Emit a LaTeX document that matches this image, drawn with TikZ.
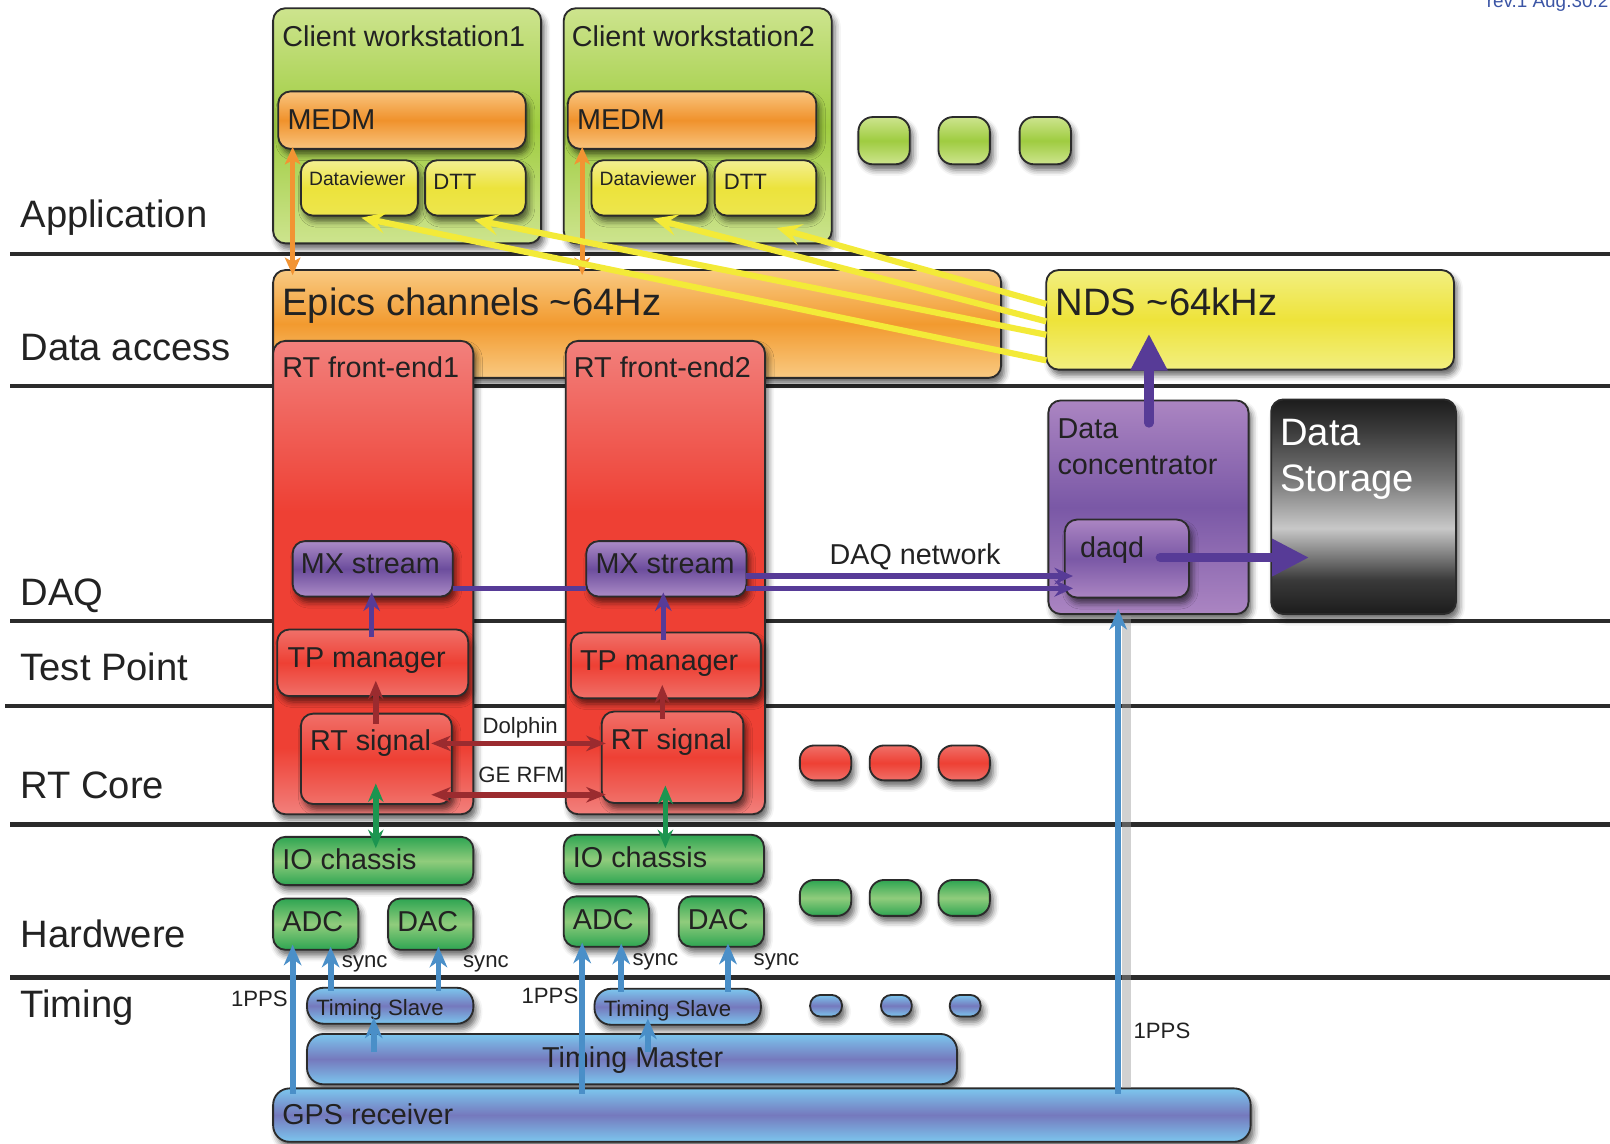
\documentclass[tikz,border=0pt]{standalone}
\usepackage{fontspec}
\setmainfont{Liberation Sans}
\usetikzlibrary{arrows.meta,calc,shadows.blur}

% palette
\definecolor{edge}{HTML}{2B2B2B}
\definecolor{ink}{HTML}{222222}
\definecolor{cwA}{HTML}{CDE48E}
\definecolor{cwB}{HTML}{9FCC40}
\definecolor{medmA}{HTML}{F9C47E}
\definecolor{medmB}{HTML}{F0922C}
\definecolor{yelA}{HTML}{F3EF92}
\definecolor{yelB}{HTML}{ECE33C}
\definecolor{ndsA}{HTML}{F2EF80}
\definecolor{ndsB}{HTML}{EEE33A}
\definecolor{epA}{HTML}{F9CA82}
\definecolor{epB}{HTML}{F29A2F}
\definecolor{feEdge}{HTML}{F2807C}
\definecolor{feMid}{HTML}{EE4034}
\definecolor{redA}{HTML}{F07069}
\definecolor{redB}{HTML}{EE4034}
\definecolor{purA}{HTML}{AB8BC6}
\definecolor{purB}{HTML}{6C4D9D}
\definecolor{dcA}{HTML}{AB85C2}
\definecolor{dcB}{HTML}{7A58A6}
\definecolor{hwA}{HTML}{2EA552}
\definecolor{hwB}{HTML}{90CC7C}
\definecolor{tmA}{HTML}{7CC6EE}
\definecolor{tmB}{HTML}{7579BD}
\definecolor{dsDark}{HTML}{1C1C1C}
\definecolor{dsDim}{HTML}{3A3A3A}
\definecolor{dsMid}{HTML}{767676}
\definecolor{dsLight}{HTML}{C8C8C8}
\definecolor{oranLine}{HTML}{F29433}
\definecolor{yelLine}{HTML}{F3EA38}
\definecolor{purLine}{HTML}{573B97}
\definecolor{redLine}{HTML}{9B2B2F}
\definecolor{grnLine}{HTML}{1C9550}
\definecolor{bluLine}{HTML}{4A8FC8}
\definecolor{revBlue}{HTML}{3B55A5}

% vertical shadings: TikZ maps a path onto the 25bp..75bp band
\pgfdeclareverticalshading{febig}{100bp}{color(0bp)=(feEdge); color(25bp)=(feEdge); color(32bp)=(feMid); color(57bp)=(feMid); color(75bp)=(feEdge); color(100bp)=(feEdge)}
\pgfdeclareverticalshading{storage}{100bp}{color(0bp)=(dsDark); color(25bp)=(dsDark); color(33bp)=(dsDim); color(45bp)=(dsLight); color(56.5bp)=(dsMid); color(68bp)=(dsDim); color(75bp)=(dsDark); color(100bp)=(dsDark)}

\newcommand\fBig{\fontsize{18.6pt}{22pt}\selectfont}
\newcommand\fMid{\fontsize{14pt}{17pt}\selectfont}
\newcommand\fSmall{\fontsize{10.8pt}{13pt}\selectfont}
\newcommand\fTiny{\fontsize{9.4pt}{11pt}\selectfont}
\newcommand\fRev{\fontsize{9.2pt}{11pt}\selectfont}

% box from its corners: style, name, x1, y1, x2, y2
\newcommand\mkbox[6]{%
  \pgfmathsetmacro\bxw{(#5-#3)*0.5}%
  \pgfmathsetmacro\bxh{(#6-#4)*0.5}%
  \node[#1, minimum width=\bxw pt, minimum height=\bxh pt] (#2) at ({(#3+#5)/2},{(#4+#6)/2}) {};}
% text on a baseline: name, x, baseline y, font, text
\newcommand\mktext[5]{\node[txt, font=#4] (#1) at (#2,#3) {#5};}

\tikzset{
  box/.style={draw=edge, line width=0.9pt, rounded corners=6pt, inner sep=0pt, outer sep=0pt,
    blur shadow={shadow xshift=1.6pt, shadow yshift=-2.8pt, shadow blur radius=2.8pt, shadow opacity=60}},
  gloss/.style 2 args={top color=#1, bottom color=#1, middle color=#2},
  cwbox/.style={box, gloss={cwA}{cwB}},
  medmbox/.style={box, gloss={medmA}{medmB}},
  yelbox/.style={box, top color=yelA, bottom color=yelB!80!yelA, middle color=yelB},
  ndsbox/.style={box, gloss={ndsA}{ndsB}},
  epbox/.style={box, gloss={epA}{epB}},
  febox/.style={box, shade, shading=febig},
  redbox/.style={box, gloss={redA}{redB}},
  purbox/.style={box, gloss={purA}{purB}},
  dcbox/.style={box, gloss={dcA}{dcB}},
  hwbox/.style={box, gloss={hwA}{hwB}},
  tmbox/.style={box, gloss={tmA}{tmB}},
  dsbox/.style={box, shade, shading=storage},
  txt/.style={anchor=base west, inner sep=0pt, outer sep=0pt, text=ink},
  layer/.style={draw=edge, line width=2pt},
  orng/.style={draw=oranLine, line width=2.6pt,
    {Stealth[length=8.5pt,width=7.5pt,inset=2pt]}-{Stealth[length=8.5pt,width=7.5pt,inset=2pt]}},
  ylw/.style={draw=yelLine, line width=3pt, -{Stealth[length=12pt,width=10.5pt,inset=5pt]}},
  blu/.style={draw=bluLine, line width=2.8pt, -{Stealth[length=10pt,width=8.5pt,inset=3pt]}},
  pur/.style={draw=purLine, line width=2.6pt, -{Stealth[length=9pt,width=8pt,inset=3pt]}},
  purplain/.style={draw=purLine, line width=2.6pt},
  purbig/.style={draw=purLine, line width=4.5pt, line cap=round, -{Triangle[length=18pt,width=17pt]}},
  rdl/.style={draw=redLine, line width=2.7pt, -{Stealth[length=9pt,width=7.5pt,inset=3pt]}},
  rdboth/.style={draw=redLine, line width=2.7pt,
    {Stealth[length=9.5pt,width=7.5pt,inset=3pt]}-{Stealth[length=9.5pt,width=7.5pt,inset=3pt]}},
  grboth/.style={draw=grnLine, line width=2.7pt,
    {Stealth[length=9pt,width=7.5pt,inset=3pt]}-{Stealth[length=9pt,width=7.5pt,inset=3pt]}},
}

\begin{document}
\begin{tikzpicture}[x=0.5pt,y=-0.5pt]
\useasboundingbox (0,0) rectangle (1568,1114);
\clip (0,0) rectangle (1568,1114);

% layer separators
\draw[layer] (10,247) -- (1568,247);
\draw[layer] (10,376) -- (1568,376);
\draw[layer] (10,605) -- (1568,605);
\draw[layer] (5,688) -- (1568,688);
\draw[layer] (10,803) -- (1568,803);
\draw[layer] (10,952) -- (1568,952);

% layer names
\mktext{lab-app}{20}{222}{\fBig}{Application}
\mktext{lab-da}{20}{351}{\fBig}{Data access}
\mktext{lab-daq}{20}{590}{\fBig}{DAQ}
\mktext{lab-tp}{20}{663}{\fBig}{Test Point}
\mktext{lab-rt}{20}{778}{\fBig}{RT Core}
\mktext{lab-hw}{20}{923}{\fBig}{Hardwere}
\mktext{lab-tim}{20}{991}{\fBig}{Timing}

\node[txt, font=\fRev, text=revBlue] (rev) at (1448,7) {rev.1 Aug.30.2};

% application layer
\mkbox{cwbox}{cw1}{266}{8}{527}{237}
\mkbox{cwbox}{cw2}{549}{8}{810}{237}
\mktext{cw1-t}{275}{45}{\fMid}{Client workstation1}
\mktext{cw2-t}{557}{45}{\fMid}{Client workstation2}
\mkbox{medmbox}{medm1}{271}{89}{512}{145}
\mkbox{medmbox}{medm2}{553}{89}{795}{145}
\mktext{medm1-t}{280}{126}{\fMid}{MEDM}
\mktext{medm2-t}{562}{126}{\fMid}{MEDM}
\mkbox{yelbox}{dv1}{293}{156}{407}{210}
\mkbox{yelbox}{dtt1}{414}{156}{512}{210}
\mkbox{yelbox}{dv2}{576}{156}{689}{210}
\mkbox{yelbox}{dtt2}{696}{156}{795}{210}
\mktext{dv1-t}{301}{181}{\fTiny}{Dataviewer}
\mktext{dv2-t}{584}{181}{\fTiny}{Dataviewer}
\mktext{dtt1-t}{422}{185}{\fSmall}{DTT}
\mktext{dtt2-t}{705}{185}{\fSmall}{DTT}
\mkbox{cwbox, rounded corners=7pt}{gs1}{836}{114}{886}{160}
\mkbox{cwbox, rounded corners=7pt}{gs2}{914}{114}{964}{160}
\mkbox{cwbox, rounded corners=7pt}{gs3}{993}{114}{1043}{160}

% data access layer
\mkbox{epbox}{epics}{266}{263}{975}{368}
\mktext{epics-t}{275}{307}{\fBig}{Epics channels \textasciitilde64Hz}
\mkbox{ndsbox}{nds}{1019}{263}{1416}{360}
\mktext{nds-t}{1028}{307}{\fBig}{NDS \textasciitilde64kHz}

% real-time front ends
\mkbox{febox}{fe1}{266}{332}{461}{793}
\mkbox{febox}{fe2}{551}{332}{745}{793}
\mktext{fe1-t}{275}{368}{\fMid}{RT front-end1}
\mktext{fe2-t}{559}{368}{\fMid}{RT front-end2}
\mkbox{purbox}{mx1}{285}{527}{441}{581}
\mkbox{purbox}{mx2}{571}{527}{727}{581}
\mktext{mx1-t}{293}{559}{\fMid}{MX stream}
\mktext{mx2-t}{580}{559}{\fMid}{MX stream}
\mkbox{redbox}{tp1}{270}{613}{456}{678}
\mkbox{redbox}{tp2}{556}{616}{741}{680}
\mktext{tp1-t}{280}{650}{\fMid}{TP manager}
\mktext{tp2-t}{565}{653}{\fMid}{TP manager}
\mkbox{redbox}{rts1}{293}{695}{440}{783}
\mkbox{redbox}{rts2}{586}{693}{724}{782}
\mktext{rts1-t}{302}{731}{\fMid}{RT signal}
\mktext{rts2-t}{595}{730}{\fMid}{RT signal}
\mkbox{redbox, rounded corners=7pt}{rs1}{779}{726}{829}{760}
\mkbox{redbox, rounded corners=7pt}{rs2}{847}{726}{897}{760}
\mkbox{redbox, rounded corners=7pt}{rs3}{914}{726}{964}{760}

% data concentrator and storage
\mkbox{dcbox}{dc}{1021}{390}{1216}{598}
\mktext{dc-t1}{1030}{427}{\fMid}{Data}
\mktext{dc-t2}{1030}{462}{\fMid}{concentrator}
\mkbox{dcbox}{daqd}{1037}{506}{1158}{582}
\mktext{daqd-t}{1052}{543}{\fMid}{daqd}
\mkbox{dsbox}{ds}{1238}{389}{1418}{598}
\node[txt, font=\fBig, text=white] (ds-t1) at (1247,434) {Data};
\node[txt, font=\fBig, text=white] (ds-t2) at (1247,479) {Storage};

% hardware
\mkbox{hwbox}{io1}{266}{815}{461}{862}
\mkbox{hwbox}{io2}{549}{813}{744}{861}
\mktext{io1-t}{275}{847}{\fMid}{IO chassis}
\mktext{io2-t}{558}{845}{\fMid}{IO chassis}
\mkbox{hwbox}{adc1}{266}{875}{349}{925}
\mkbox{hwbox}{dac1}{378}{875}{461}{925}
\mkbox{hwbox}{adc2}{549}{873}{632}{922}
\mkbox{hwbox}{dac2}{661}{873}{744}{922}
\mktext{adc1-t}{275}{907}{\fMid}{ADC}
\mktext{dac1-t}{387}{907}{\fMid}{DAC}
\mktext{adc2-t}{558}{905}{\fMid}{ADC}
\mktext{dac2-t}{670}{905}{\fMid}{DAC}
\mkbox{hwbox, rounded corners=7pt}{hs1}{779}{857}{829}{892}
\mkbox{hwbox, rounded corners=7pt}{hs2}{847}{857}{897}{892}
\mkbox{hwbox, rounded corners=7pt}{hs3}{914}{857}{964}{892}

% timing
\mkbox{tmbox, rounded corners=8pt}{ts1}{299}{962}{461}{997}
\mkbox{tmbox, rounded corners=8pt}{ts2}{579}{963}{741}{998}
\mktext{ts1-t}{308}{989}{\fSmall}{Timing Slave}
\mktext{ts2-t}{588}{990}{\fSmall}{Timing Slave}
\mkbox{tmbox, rounded corners=5pt}{bs1}{789}{969}{820}{990}
\mkbox{tmbox, rounded corners=5pt}{bs2}{858}{969}{888}{990}
\mkbox{tmbox, rounded corners=5pt}{bs3}{925}{969}{955}{990}
\mkbox{tmbox, rounded corners=8pt}{tm}{299}{1007}{932}{1056}
\mktext{tm-t}{528}{1040}{\fMid}{Timing Master}
\mkbox{tmbox, rounded corners=8pt}{gps}{266}{1060}{1218}{1112}
\mktext{gps-t}{275}{1095}{\fMid}{GPS receiver}

% DAQ data path
\draw[purplain] (mx1.east |- 0,573) -- (mx2.west |- 0,573);
\draw[pur, shorten >=-4pt] (mx2.east |- 0,561) -- (daqd.west |- 0,561);
\draw[pur, shorten >=-4pt] (mx2.east |- 0,573) -- (daqd.west |- 0,573);
\mktext{daqnet}{808}{550}{\fMid}{DAQ network}
\draw[pur, shorten <=-3.5pt, shorten >=-2pt] (tp1.north -| 362,0) -- (mx1.south -| 362,0);
\draw[pur, shorten <=-3.5pt, shorten >=-2pt] (tp2.north -| 646,0) -- (mx2.south -| 646,0);
\draw[purbig, shorten <=-11pt, shorten >=-17.5pt] (dc.north -| 1119,0) -- (nds.south -| 1119,0);
\draw[purbig, shorten <=-14pt, shorten >=-18.5pt] (daqd.east |- 0,543) -- (ds.west |- 0,543);

% real-time signal paths
\draw[rdl, shorten <=-5pt, shorten >=-7.5pt] (rts1.north -| 366,0) -- (tp1.south -| 366,0);
\draw[rdl, shorten <=-3.5pt, shorten >=-6.5pt] (rts2.north -| 645,0) -- (tp2.south -| 645,0);
\draw[rdboth, shorten <=-10pt, shorten >=-2pt] (rts1.east |- 0,724) -- (rts2.west |- 0,724);
\draw[rdboth, shorten <=-10pt, shorten >=-2pt] (rts1.east |- 0,774) -- (rts2.west |- 0,774);
\mktext{dolphin}{470}{714}{\fSmall}{Dolphin}
\mktext{gerfm}{466}{762}{\fSmall}{GE RFM}
\draw[grboth, shorten <=-10pt, shorten >=-5.5pt] (rts1.south -| 366,0) -- (io1.north -| 366,0);
\draw[grboth, shorten <=-8.5pt, shorten >=-6.5pt] (rts2.south -| 648,0) -- (io2.north -| 648,0);

% timing distribution
\draw[line width=4.5pt, black!40, opacity=0.45] ($(gps.north -| 1089,0)+(8,0)$) -- ($(dc.south -| 1089,0)+(8,2)$);
\draw[blu, shorten <=-2.5pt, shorten >=-2.5pt] (gps.north -| 285,0) -- (adc1.south -| 285,0);
\draw[blu, shorten <=-1.5pt, shorten >=-1.5pt] (ts1.north -| 322,0) -- (adc1.south -| 322,0);
\draw[blu, shorten <=-1.5pt, shorten >=-1.5pt] (ts1.north -| 427,0) -- (dac1.south -| 427,0);
\draw[blu, shorten <=-9pt, shorten >=-3pt] (tm.north -| 364,0) -- (ts1.south -| 364,0);
\draw[blu, shorten <=-2.5pt, shorten >=-2pt] (gps.north -| 567,0) -- (adc2.south -| 567,0);
\draw[blu, shorten <=-1.5pt, shorten >=-1.5pt] (ts2.north -| 605,0) -- (adc2.south -| 605,0);
\draw[blu, shorten <=-1.5pt, shorten >=-1.5pt] (ts2.north -| 709,0) -- (dac2.south -| 709,0);
\draw[blu, shorten <=-9pt, shorten >=-3pt] (tm.north -| 631,0) -- (ts2.south -| 631,0);
\draw[blu, shorten <=-2.5pt, shorten >=-2.5pt] (gps.north -| 1089,0) -- (dc.south -| 1089,0);
\mktext{sync1}{333}{942}{\fSmall}{sync}
\mktext{sync2}{451}{942}{\fSmall}{sync}
\mktext{sync3}{616}{940}{\fSmall}{sync}
\mktext{sync4}{734}{940}{\fSmall}{sync}
\mktext{pps1}{225}{980}{\fSmall}{1PPS}
\mktext{pps2}{508}{977}{\fSmall}{1PPS}
\mktext{pps3}{1104}{1011}{\fSmall}{1PPS}

% EPICS access
\draw[orng, shorten <=-1pt, shorten >=-2.5pt] (medm1.south -| 285,0) -- (epics.north -| 285,0);
\draw[orng, shorten <=-1pt, shorten >=-2.5pt] (medm2.south -| 567,0) -- (epics.north -| 567,0);

% NDS clients
\draw[ylw] (nds.west |- 0,296) -- ($(dtt2.south)+(11,12)$);
\draw[ylw] (nds.west |- 0,313) -- ($(dv2.south)+(3.5,3)$);
\draw[ylw] (nds.west |- 0,326) -- ($(dtt1.south)+(-1,4)$);
\draw[ylw] (nds.west |- 0,351) -- ($(dv1.south)+(2,2)$);
\end{tikzpicture}
\end{document}
